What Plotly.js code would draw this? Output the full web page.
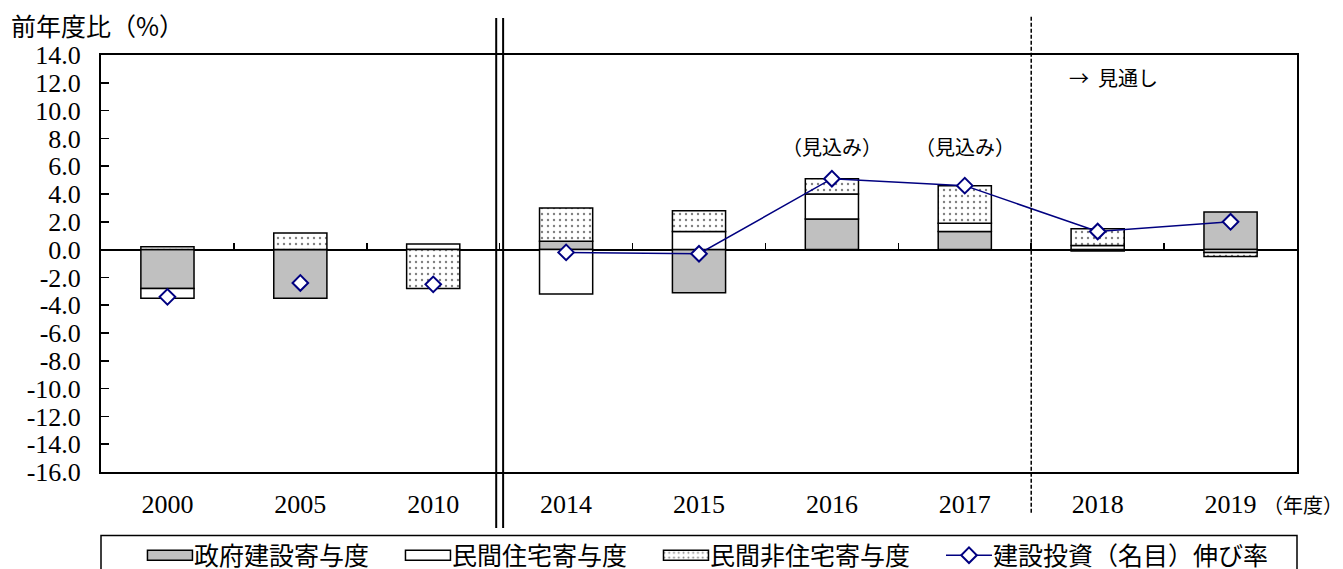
<!DOCTYPE html>
<html>
<head>
<meta charset="utf-8">
<script src="https://cdn.plot.ly/plotly-3.0.1.min.js"></script>
<style>
  html, body { margin: 0; padding: 0; background: #fff; }
  #chart { width: 1343px; height: 569px; }
</style>
</head>
<body>
<div id="chart"></div>
<script>
// 年度
const years = ['2000', '2005', '2010', '2014', '2015', '2016', '2017', '2018', '2019'];

// 寄与度（%ポイント）
const govContrib     = [-2.8, -3.5,  0.0,  0.6, -3.1, 2.2, 1.3, -0.1,  2.7];
const housingContrib = [-0.7,  0.0,  0.4, -3.2,  1.3, 1.8, 0.6,  0.3, -0.2];
const nonResContrib  = [ 0.2,  1.2, -2.8,  2.4,  1.5, 1.1, 2.7,  1.2, -0.3];

// 建設投資（名目）伸び率（%）
const growthRate = [-3.4, -2.4, -2.5, -0.2, -0.3, 5.1, 4.6, 1.3, 2.0];

// 縦軸目盛
const yTickVals = [-16, -14, -12, -10, -8, -6, -4, -2, 0, 2, 4, 6, 8, 10, 12, 14];
const yTickText = ['-16.0', '-14.0', '-12.0', '-10.0', '-8.0', '-6.0', '-4.0', '-2.0',
                   '0.0', '2.0', '4.0', '6.0', '8.0', '10.0', '12.0', '14.0'];

// 2010年度までは単年の比較なので線で結ばない
const splitIndex = 3;

const serif = 'Liberation Serif, "Times New Roman", "Noto Sans CJK JP", serif';
const jp = '"Noto Sans CJK JP", sans-serif';
const navy = '#000080';

const barLine = { color: '#000', width: 1.5 };
const diamond = { symbol: 'diamond', size: 12, color: '#fff', line: { color: navy, width: 2 } };

const traces = [
  {
    type: 'bar', name: '政府建設寄与度', x: years, y: govContrib,
    marker: { color: '#c0c0c0', line: barLine }
  },
  {
    type: 'bar', name: '民間住宅寄与度', x: years, y: housingContrib,
    marker: { color: '#ffffff', line: barLine }
  },
  {
    type: 'bar', name: '民間非住宅寄与度', x: years, y: nonResContrib,
    marker: {
      color: '#ffffff', line: barLine,
      pattern: { shape: '.', fgcolor: '#000', bgcolor: '#fff', size: 6, solidity: 0.12, fillmode: 'overlay' }
    }
  },
  {
    type: 'scatter', mode: 'markers', showlegend: false, hoverinfo: 'skip',
    x: years.slice(0, splitIndex), y: growthRate.slice(0, splitIndex),
    marker: diamond
  },
  {
    type: 'scatter', mode: 'lines+markers', name: '建設投資（名目）伸び率',
    x: years.slice(splitIndex), y: growthRate.slice(splitIndex),
    line: { color: navy, width: 1.5 },
    marker: diamond
  },
  // 0 の位置の目盛り用（空）
  { type: 'scatter', x: [], y: [], xaxis: 'x2', showlegend: false, hoverinfo: 'skip' }
];

const layout = {
  width: 1343,
  height: 569,
  margin: { l: 101, r: 46, t: 55, b: 97, autoexpand: false },
  paper_bgcolor: '#fff',
  plot_bgcolor: '#fff',
  barmode: 'relative',
  bargap: 0.6,
  showlegend: true,
  font: { family: serif, color: '#000' },
  xaxis: {
    type: 'category',
    range: [-0.5, 8.5],
    showgrid: false,
    showline: true, mirror: true, linecolor: '#000', linewidth: 2,
    ticks: '',
    ticklabelstandoff: 8,
    tickfont: { family: serif, size: 26, color: '#000' },
    fixedrange: true
  },
  xaxis2: {
    type: 'linear',
    overlaying: 'x',
    anchor: 'free',
    position: 16 / 30,
    range: [-0.5, 8.5],
    tickvals: [0.5, 1.5, 2.5, 3.5, 4.5, 5.5, 6.5, 7.5],
    ticks: 'inside', ticklen: 7, tickwidth: 1.5, tickcolor: '#000',
    showticklabels: false,
    showline: false, showgrid: false, zeroline: false,
    fixedrange: true
  },
  yaxis: {
    range: [-16, 14],
    tickvals: yTickVals,
    ticktext: yTickText,
    ticks: 'inside', ticklen: 8, tickwidth: 1.5, tickcolor: '#000',
    showgrid: false,
    showline: true, mirror: true, linecolor: '#000', linewidth: 2,
    zeroline: true, zerolinecolor: '#000', zerolinewidth: 2,
    ticklabelstandoff: 13,
    tickfont: { family: serif, size: 26, color: '#000' },
    fixedrange: true
  },
  legend: {
    orientation: 'h',
    x: 0.0125, xanchor: 'left',
    y: -0.145, yanchor: 'top',
    font: { family: serif, size: 25, color: '#000' },
    itemwidth: 68,
    bgcolor: 'rgba(0,0,0,0)',
    borderwidth: 0,
    traceorder: 'normal'
  },
  shapes: [
    // 2010 と 2014 の間の二重線
    { type: 'line', xref: 'x', yref: 'paper', x0: 2.474, x1: 2.474, y0: -0.134, y1: 1.089,
      line: { color: '#000', width: 2 } },
    { type: 'line', xref: 'x', yref: 'paper', x0: 2.526, x1: 2.526, y0: -0.134, y1: 1.089,
      line: { color: '#000', width: 2 } },
    // 見通しの区切り
    { type: 'line', xref: 'x', yref: 'paper', x0: 6.5, x1: 6.5, y0: -0.098, y1: 1.096,
      line: { color: '#000', width: 1.5, dash: '4px,2px' } },
    // 凡例の枠
    { type: 'rect', xref: 'paper', yref: 'paper', x0: 0, x1: 1, y0: -0.32, y1: -0.152,
      line: { color: '#000', width: 1.5 }, fillcolor: 'rgba(0,0,0,0)' }
  ],
  annotations: [
    { text: '前年度比（%）', xref: 'paper', yref: 'paper', x: -0.077, y: 1.072,
      xanchor: 'left', yanchor: 'middle', showarrow: false,
      font: { family: jp, size: 25, color: '#000' } },
    { text: '（年度）', xref: 'paper', yref: 'paper', x: 0.9695, y: -0.079,
      xanchor: 'left', yanchor: 'middle', showarrow: false,
      font: { family: jp, size: 20, color: '#000' } },
    { text: '（見込み）', xref: 'x', yref: 'y', x: 5, y: 7.4,
      xanchor: 'center', yanchor: 'middle', showarrow: false,
      font: { family: jp, size: 20, color: '#000' } },
    { text: '（見込み）', xref: 'x', yref: 'y', x: 6, y: 7.4,
      xanchor: 'center', yanchor: 'middle', showarrow: false,
      font: { family: jp, size: 20, color: '#000' } },
    { text: '→  見通し', xref: 'paper', yref: 'paper', x: 0.808, y: 0.945,
      xanchor: 'left', yanchor: 'middle', showarrow: false,
      font: { family: jp, size: 20, color: '#000' } }
  ]
};

// 凡例の見本を文字の直前に置き、棒の見本は横長の長方形にする
function shiftBy(el, dx) {
  const t = el.getAttribute('transform') || '';
  el.setAttribute('transform', t + ' translate(' + dx + ',0)');
}

function restyleLegendSymbols() {
  document.querySelectorAll('#chart g.legend g.traces').forEach(function (item) {
    if (item.dataset.tuned) return;
    const text = item.querySelector('text.legendtext');
    if (!text) return;
    const textLeft = text.getBoundingClientRect().left;
    const symbolEnd = textLeft - 1;
    const symbolCenter = symbolEnd - 23;

    const bar = Array.from(item.querySelectorAll('g.legendpoints path'))
      .find(function (p) { return (p.getAttribute('d') || '').indexOf('M6,6H-6V-6H6Z') === 0; });
    if (bar) {
      bar.setAttribute('d', 'M-22.5,5H22.5V-5H-22.5Z');
      const r = bar.getBoundingClientRect();
      shiftBy(bar, symbolCenter - (r.left + r.width / 2));
    } else {
      const line = item.querySelector('g.legendlines path');
      if (line) {
        line.setAttribute('d', 'M-23,0h46');
        const r = line.getBoundingClientRect();
        shiftBy(line, symbolCenter - (r.left + r.width / 2));
      }
      item.querySelectorAll('g.legendpoints path').forEach(function (p) {
        const r = p.getBoundingClientRect();
        shiftBy(p, symbolCenter - (r.left + r.width / 2));
      });
    }
    item.dataset.tuned = '1';
  });
}

const gd = document.getElementById('chart');
Plotly.newPlot(gd, traces, layout, { staticPlot: true, displayModeBar: false }).then(function () {
  restyleLegendSymbols();
  gd.on('plotly_afterplot', restyleLegendSymbols);
});
</script>
</body>
</html>
